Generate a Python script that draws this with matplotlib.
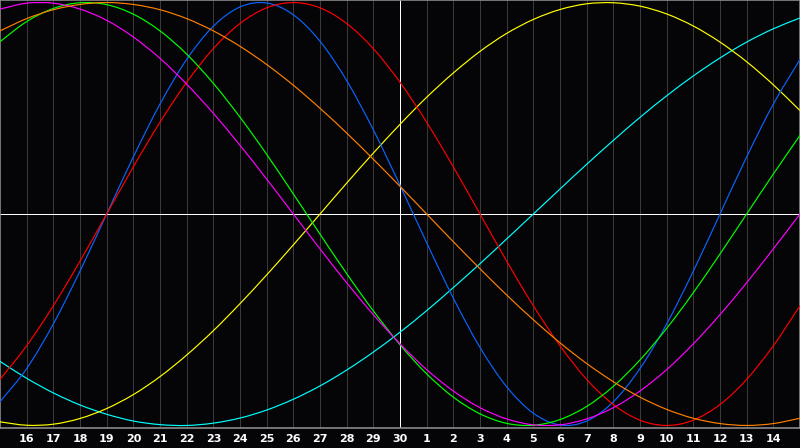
import matplotlib
matplotlib.use("Agg")
import matplotlib.pyplot as plt
import matplotlib.transforms as mtrans
from matplotlib.path import Path
from matplotlib.patches import PathPatch
import numpy as np

# Day labels shown under the chart (one per grid line)
day_labels = [16, 17, 18, 19, 20, 21, 22, 23, 24, 25, 26, 27, 28, 29, 30,
              1, 2, 3, 4, 5, 6, 7, 8, 9, 10, 11, 12, 13, 14]

# Daily values (31 days, from the left edge to the right edge), range -1..1
physical = [-0.888, -0.731, -0.520, -0.270, 0.000, 0.270, 0.520, 0.731, 0.888, 0.979,
            0.998, 0.942, 0.817, 0.631, 0.398, 0.136, -0.136, -0.398, -0.631, -0.817,
            -0.942, -0.998, -0.979, -0.888, -0.731, -0.520, -0.270, 0.000, 0.270, 0.520,
            0.731]
emotional = [-0.782, -0.623, -0.434, -0.223, 0.000, 0.223, 0.434, 0.623, 0.782, 0.901,
             0.975, 1.000, 0.975, 0.901, 0.782, 0.623, 0.434, 0.223, 0.000, -0.223,
             -0.434, -0.623, -0.782, -0.901, -0.975, -1.000, -0.975, -0.901, -0.782, -0.623,
             -0.434]
intellectual = [0.815, 0.910, 0.972, 0.999, 0.990, 0.945, 0.866, 0.756, 0.618, 0.458,
                0.282, 0.095, -0.095, -0.282, -0.458, -0.618, -0.756, -0.866, -0.945, -0.990,
                -0.999, -0.972, -0.910, -0.815, -0.690, -0.541, -0.372, -0.189, 0.000, 0.189,
                0.372]
intuitive = [0.969, 0.997, 0.997, 0.969, 0.916, 0.837, 0.736, 0.614, 0.476, 0.325,
             0.165, 0.000, -0.165, -0.325, -0.476, -0.614, -0.736, -0.837, -0.916, -0.969,
             -0.997, -0.997, -0.969, -0.916, -0.837, -0.736, -0.614, -0.476, -0.325, -0.165,
             0.000]
aesthetic = [-0.983, -0.999, -0.994, -0.967, -0.920, -0.854, -0.769, -0.667, -0.552, -0.424,
             -0.288, -0.146, 0.000, 0.146, 0.288, 0.424, 0.552, 0.667, 0.769, 0.854,
             0.920, 0.967, 0.994, 0.999, 0.983, 0.946, 0.889, 0.813, 0.720, 0.611,
             0.489]
awareness = [0.866, 0.924, 0.966, 0.991, 1.000, 0.991, 0.966, 0.924, 0.866, 0.793,
             0.707, 0.609, 0.500, 0.383, 0.259, 0.131, 0.000, -0.131, -0.259, -0.383,
             -0.500, -0.609, -0.707, -0.793, -0.866, -0.924, -0.966, -0.991, -1.000, -0.991,
             -0.966]
spiritual = [-0.697, -0.777, -0.846, -0.903, -0.947, -0.979, -0.996, -1.000, -0.989, -0.965,
             -0.927, -0.876, -0.813, -0.738, -0.653, -0.559, -0.457, -0.348, -0.235, -0.118,
             0.000, 0.118, 0.235, 0.348, 0.457, 0.559, 0.653, 0.738, 0.813, 0.876,
             0.927]

series = [
    (spiritual, "#00ffff"),
    (aesthetic, "#ffff00"),
    (physical, "#0a64ff"),
    (emotional, "#ff0000"),
    (intellectual, "#00ff00"),
    (intuitive, "#ff00ff"),
    (awareness, "#ff8000"),
]


def smooth_path(xs, ys):
    """Smooth line through the points (Catmull-Rom drawn as cubic Bezier)."""
    p = np.column_stack([xs, ys]).astype(float)
    ext = np.vstack([2 * p[0] - p[1], p, 2 * p[-1] - p[-2]])
    verts = [p[0]]
    codes = [Path.MOVETO]
    for i in range(1, len(ext) - 2):
        p0, p1, p2, p3 = ext[i - 1], ext[i], ext[i + 1], ext[i + 2]
        verts += [p1 + (p2 - p0) / 6, p2 - (p3 - p1) / 6, p2]
        codes += [Path.CURVE4] * 3
    return Path(verts, codes)


W, H = 800, 448
bg = "#050507"
fig = plt.figure(figsize=(W / 100, H / 100), dpi=100, facecolor=bg)
plot_h = 428
ax = fig.add_axes([0, (H - plot_h) / H, 1, plot_h / H])
ax.set_facecolor(bg)

n = len(physical)
x = np.arange(n)
ax.set_xlim(0, n - 1)
ax.set_ylim(-1.012, 1.012)

# vertical day grid
for i in range(1, n - 1):
    ax.axvline(i, color="#3a3a3a", lw=0.72, zorder=1, antialiased=False)

# centre lines
ax.axhline(0, color="#ffffff", lw=0.72, zorder=2, antialiased=False)
ax.axvline((n - 1) / 2, color="#ffffff", lw=0.72, zorder=2, antialiased=False)

for vals, col in series:
    patch = PathPatch(smooth_path(x, vals), facecolor="none", edgecolor=col,
                      lw=0.85, zorder=3)
    ax.add_patch(patch)

ax.set_xticks([])
ax.set_yticks([])
for side, sp in ax.spines.items():
    sp.set_color("#8a8a8a")
    sp.set_linewidth(1.2)

# day labels below the plot area
off = mtrans.ScaledTranslation(0, -6 / 100, fig.dpi_scale_trans)
for i, lab in enumerate(day_labels, start=1):
    ax.text(i, -1.012, str(lab), transform=ax.transData + off, ha="center", va="top",
            color="white", fontsize=8, fontweight="bold", family="DejaVu Sans",
            clip_on=False)

fig.savefig("out.png", dpi=100, facecolor=fig.get_facecolor())
